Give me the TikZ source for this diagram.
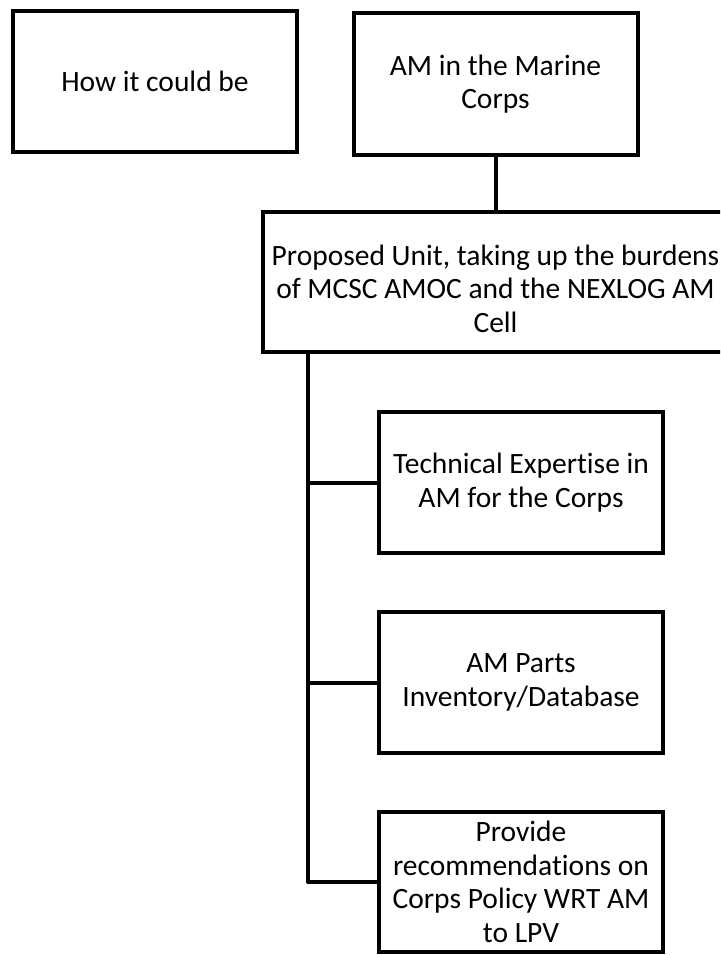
\documentclass[tikz,border=0pt]{standalone}
\usepackage{fontspec}
\setmainfont{Carlito}[Ligatures={NoCommon}]
\begin{document}
\begin{tikzpicture}[x=1pt,y=-1pt,
  box/.style={draw=black, line width=4pt, rectangle, fill=white, align=center,
    inner sep=0pt, minimum width=284pt, minimum height=141pt,
    font=\fontsize{29.5}{33.5}\selectfont},
  link/.style={draw=black, line width=4pt, line join=round}]
\useasboundingbox (0,0) rectangle (720,955);
\clip (0,0) rectangle (720,955);
\node[box] (b1) at (155,81.5) {How it could be};
\node[box] (b2) at (495.5,84) {AM in the Marine\\Corps};
\node[box, minimum width=466pt, minimum height=140pt] (b3) at (495.5,282)
  {\rule{0pt}{34pt}Proposed Unit, taking up the burdens\\of MCSC AMOC and the NEXLOG AM\\Cell};
\node[box] (b4) at (521,482.5) {Technical Expertise in\\AM for the Corps};
\node[box] (b5) at (521,682.5) {AM Parts\\Inventory/Database};
\node[box, minimum height=140pt] (b6) at (521,882) {Provide\\recommendations on\\Corps Policy WRT AM\\to LPV};
\path (b3.south west) ++(47.5,0) coordinate (trunk);
\draw[link] (b2.south) -- (b3.north);
\draw[link] (trunk) |- (b6.west);
\draw[link] (trunk) |- (b4.west);
\draw[link] (trunk) |- (b5.west);
\end{tikzpicture}
\end{document}
